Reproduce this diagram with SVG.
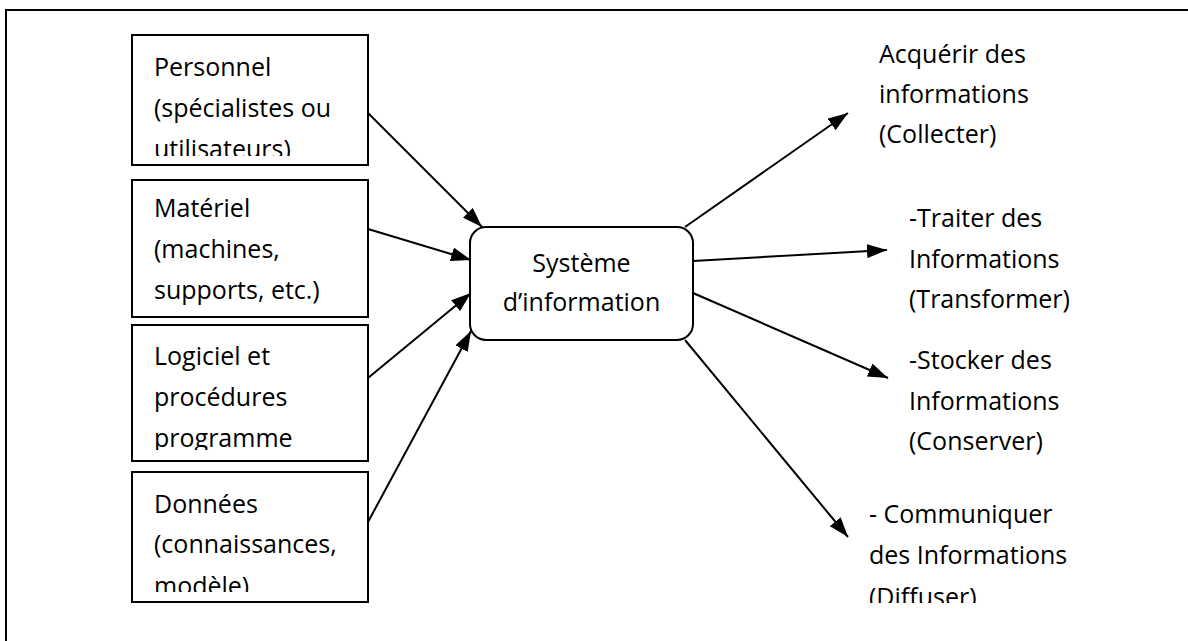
<svg xmlns="http://www.w3.org/2000/svg" width="1188" height="641" viewBox="0 0 1188 641">
<style>
.box{fill:#fff;stroke:#000;stroke-width:2}
.t{font-family:"Open Sans","Liberation Sans",sans-serif;font-size:25px;fill:#000}
.c{text-anchor:middle}
.ln{stroke:#000;stroke-width:2;fill:none;marker-end:url(#ah)}
</style>
<defs>
<marker id="ah" markerUnits="userSpaceOnUse" markerWidth="20" markerHeight="14" refX="20" refY="7" orient="auto">
<path d="M0,0 L20,7 L0,14 z" fill="#000"/>
</marker>
<clipPath id="cp1"><rect x="130" y="30" width="240" height="126"/></clipPath>
<clipPath id="cp3"><rect x="130" y="320" width="240" height="130"/></clipPath>
<clipPath id="cp4"><rect x="130" y="470" width="240" height="122"/></clipPath>
<clipPath id="cp8"><rect x="860" y="500" width="320" height="103"/></clipPath>
</defs>
<rect x="6" y="10" width="1200" height="700" fill="#fff" stroke="#000" stroke-width="2"/>
<g id="connectors">
<line class="ln" x1="368" y1="113" x2="482" y2="227"/>
<line class="ln" x1="368" y1="229" x2="471" y2="260"/>
<line class="ln" x1="368" y1="378" x2="471" y2="293"/>
<line class="ln" x1="368" y1="522" x2="471" y2="331"/>
<line class="ln" x1="685" y1="227" x2="848" y2="113"/>
<line class="ln" x1="693" y1="261" x2="887" y2="250"/>
<line class="ln" x1="693" y1="293" x2="888" y2="378"/>
<line class="ln" x1="685" y1="340" x2="848" y2="537"/>
</g>
<g id="personnel">
<rect class="box" x="132" y="35" width="236" height="130"/>
<g clip-path="url(#cp1)">
<text class="t" x="154" y="76">Personnel</text>
<text class="t" x="154" y="117">(spécialistes ou</text>
<text class="t" x="154" y="158">utilisateurs)</text>
</g>
</g>
<g id="materiel">
<rect class="box" x="132" y="180" width="236" height="137"/>
<text class="t" x="154" y="217">Matériel</text>
<text class="t" x="154" y="258">(machines,</text>
<text class="t" x="154" y="299">supports, etc.)</text>
</g>
<g id="logiciel">
<rect class="box" x="132" y="325" width="236" height="136"/>
<g clip-path="url(#cp3)">
<text class="t" x="154" y="365">Logiciel et</text>
<text class="t" x="154" y="406">procédures</text>
<text class="t" x="154" y="447">programme</text>
</g>
</g>
<g id="donnees">
<rect class="box" x="132" y="472" width="236" height="130"/>
<g clip-path="url(#cp4)">
<text class="t" x="154" y="513">Données</text>
<text class="t" x="154" y="553">(connaissances,</text>
<text class="t" x="154" y="595">modèle)</text>
</g>
</g>
<g id="systeme">
<rect class="box" x="470" y="227" width="223" height="113" rx="16" ry="16"/>
<text class="t c" x="581.5" y="272">Système</text>
<text class="t c" x="581.5" y="311">d’information</text>
</g>
<g id="acquerir">
<text class="t" x="879" y="63">Acquérir des</text>
<text class="t" x="879" y="103">informations</text>
<text class="t" x="879" y="143">(Collecter)</text>
</g>
<g id="traiter">
<text class="t" x="909" y="227">-Traiter des</text>
<text class="t" x="909" y="268">Informations</text>
<text class="t" x="909" y="308">(Transformer)</text>
</g>
<g id="stocker">
<text class="t" x="909" y="369">-Stocker des</text>
<text class="t" x="909" y="410">Informations</text>
<text class="t" x="909" y="450">(Conserver)</text>
</g>
<g id="communiquer">
<g clip-path="url(#cp8)">
<text class="t" x="869" y="523">- Communiquer</text>
<text class="t" x="869" y="564">des Informations</text>
<text class="t" x="869" y="606">(Diffuser)</text>
</g>
</g>
</svg>
